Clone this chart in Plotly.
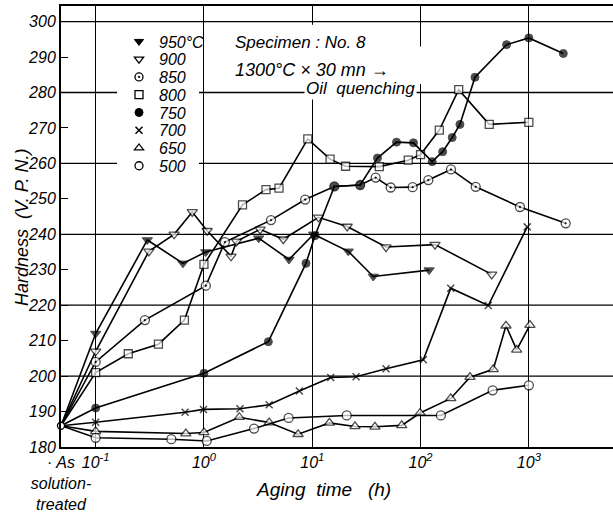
import plotly.graph_objects as go

# ---------------- data ----------------
AS_X = 10 ** -1.32          # position used for the "As solution-treated" state
AS_VALUE = 186

T950_X = [AS_X, 0.1, 0.30, 0.64, 1.04, 3.2, 6.1, 10.3, 21.5, 36.6, 120]
T950_Y = [AS_VALUE, 212, 238.4, 231.8, 235.0, 238.9, 232.9, 240.0, 235.2, 228.1, 229.9]

T900_X = [AS_X, 0.1, 0.31, 0.53, 0.78, 1.07, 1.78, 2.0, 3.3, 5.4, 11.4, 21, 48, 136, 454]
T900_Y = [AS_VALUE, 207, 235.2, 240.0, 246.3, 241.0, 233.8, 238.0, 241.4, 238.6, 244.8, 242.2, 236.4, 237.1, 228.7]

T850_X = [AS_X, 0.1, 0.285, 1.04, 1.56, 4.16, 8.6, 16, 27.7, 38.5, 53, 84.5, 118, 191, 323, 828, 2190]
T850_Y = [AS_VALUE, 204, 215.8, 225.5, 237.8, 244.0, 249.8, 253.5, 253.9, 256.0, 253.2, 253.3, 255.3, 258.3, 253.4, 247.7, 243.1]

T800_X = [AS_X, 0.1, 0.2, 0.38, 0.66, 1.0, 2.27, 3.74, 4.93, 9.1, 14.6, 20.3, 41.6, 77, 100, 149, 225, 431, 1000]
T800_Y = [AS_VALUE, 201, 206.3, 209.0, 215.8, 231.5, 248.3, 252.6, 253.0, 266.9, 261.2, 259.2, 259.1, 260.9, 262.5, 269.4, 280.8, 271.0, 271.6]

T750_X = [AS_X, 0.1, 1.0, 3.93, 8.75, 10.6, 16, 27.7, 40, 60, 86, 128, 160, 196, 231, 318, 623, 1000, 2080]
T750_Y = [AS_VALUE, 191, 200.8, 209.7, 231.8, 239.6, 253.5, 253.9, 261.5, 266.0, 265.8, 260.5, 263.3, 267.3, 271.0, 284.3, 293.5, 295.4, 291.0]

T700_X = [AS_X, 0.1, 0.67, 0.99, 2.15, 4.0, 7.6, 14.8, 25.4, 48, 106, 190, 422, 966]
T700_Y = [AS_VALUE, 187, 189.8, 190.6, 190.8, 191.9, 195.8, 199.6, 199.8, 202.1, 204.6, 224.8, 219.9, 242.1]

T650_X = [AS_X, 0.1, 0.68, 1.0, 2.12, 4.0, 7.4, 14.4, 24.8, 37.9, 67, 99, 190, 286, 469, 615, 772, 1023]
T650_Y = [AS_VALUE, 184.4, 183.8, 184.1, 188.4, 186.9, 183.6, 186.8, 185.8, 185.7, 186.1, 189.6, 193.7, 199.7, 201.9, 214.2, 207.4, 214.4]

T500_X = [AS_X, 0.1, 0.5, 1.06, 2.9, 6.05, 20.8, 154, 463, 1000]
T500_Y = [AS_VALUE, 182.6, 182.2, 181.7, 185.2, 188.2, 188.9, 188.9, 196.0, 197.4]

SERIES_NAMES = ["950°C", "900", "850", "800", "750", "700", "650", "500"]
SERIES_X = [T950_X, T900_X, T850_X, T800_X, T750_X, T700_X, T650_X, T500_X]
SERIES_Y = [T950_Y, T900_Y, T850_Y, T800_Y, T750_Y, T700_Y, T650_Y, T500_Y]

X_TICK_VALS = [AS_X, 0.1, 1, 10, 100, 1000]
X_TICK_TEXT = ["· As<br>solution-<br>treated", "10<sup>-1</sup>", "10<sup>0</sup>",
               "10<sup>1</sup>", "10<sup>2</sup>", "10<sup>3</sup>"]
Y_TICK_VALS = list(range(180, 301, 10))
Y_GRID_VALS = [200, 220, 240, 260, 280, 300]

# ---------------- styling ----------------
SANS = "Liberation Sans, Arial, sans-serif"

MARKERS = {
    "950°C": dict(symbol="triangle-down", color="black", size=9, line=dict(color="black", width=1)),
    "900": dict(symbol="triangle-down", color="white", size=9, line=dict(color="black", width=1.3)),
    "850": dict(symbol="circle-dot", color="white", size=9, line=dict(color="black", width=1.3)),
    "800": dict(symbol="square", color="white", size=8, line=dict(color="black", width=1.3)),
    "750": dict(symbol="circle", color="black", size=8, line=dict(color="black", width=1)),
    "700": dict(symbol="x-thin", color="black", size=7, line=dict(color="black", width=1.5)),
    "650": dict(symbol="triangle-up", color="white", size=9, line=dict(color="black", width=1.3)),
    "500": dict(symbol="circle", color="white", size=9, line=dict(color="black", width=1.3)),
}

L, T, B = 61, 6, 60
W, H = 613, 513
PW, PH = W - L, H - T - B


def px(x):
    return (x - L) / PW


def py(y):
    return (H - B - y) / PH


fig = go.Figure()

for name, xs, ys in zip(SERIES_NAMES, SERIES_X, SERIES_Y):
    m = dict(MARKERS[name])
    m["size"] = [0] + [m["size"]] * (len(xs) - 1)
    fig.add_trace(go.Scatter(
        x=xs, y=ys, mode="lines+markers", showlegend=False,
        line=dict(color="black", width=1.6),
        marker=m, cliponaxis=False, hoverinfo="skip",
    ))

# starting point (as solution-treated)
fig.add_trace(go.Scatter(
    x=[AS_X], y=[AS_VALUE], mode="markers", showlegend=False, cliponaxis=False,
    marker=dict(symbol="circle", color="white", size=7, line=dict(color="black", width=1.3)),
))

# legend: one small legend per entry so the row spacing matches the figure
LEGEND_ROW_Y = [42, 60, 78, 96, 114, 132, 150, 168]
legend_layouts = {}
for i, name in enumerate(SERIES_NAMES):
    key = "legend" if i == 0 else f"legend{i + 1}"
    m = dict(MARKERS[name])
    m["size"] = 8 if name != "700" else 7
    fig.add_trace(go.Scatter(x=[None], y=[None], mode="markers", name=name, marker=m,
                             legend=key, showlegend=True))
    legend_layouts[key] = dict(
        x=px(119), y=py(LEGEND_ROW_Y[i]), xanchor="left", yanchor="middle",
        bgcolor="rgba(0,0,0,0)", borderwidth=0, itemwidth=30,
        font=dict(family=SANS, size=16, style="italic", color="black"),
    )

shapes = []
for gy in Y_GRID_VALS:
    shapes.append(dict(type="line", xref="paper", yref="y", x0=0, x1=1, y0=gy, y1=gy,
                       line=dict(color="black", width=1.3), layer="below"))
# white box behind the legend (interrupts the grid lines like the figure)
shapes.append(dict(type="rect", xref="paper", yref="paper", x0=px(117), x1=px(199),
                   y0=py(180), y1=py(30), fillcolor="white", line=dict(width=0), layer="below"))
# white areas behind the specimen note (interrupt the vertical grid lines)
shapes.append(dict(type="rect", xref="paper", yref="paper", x0=px(228), x1=px(385),
                   y0=py(85), y1=py(25), fillcolor="white", line=dict(width=0), layer="above"))
shapes.append(dict(type="rect", xref="paper", yref="paper", x0=px(385), x1=px(426),
                   y0=py(85), y1=py(47), fillcolor="white", line=dict(width=0), layer="above"))

annotations = [
    dict(text="Hardness  (V. P. N.)", xref="paper", yref="paper", x=px(22), y=py(231),
         xanchor="center", yanchor="middle", textangle=-90, showarrow=False,
         font=dict(family=SANS, size=18, style="italic", color="black")),
    dict(text="Aging  time   (h)", xref="paper", yref="paper", x=px(323), y=py(496),
         xanchor="center", yanchor="middle", showarrow=False,
         font=dict(family=SANS, size=19, style="italic", color="black")),
    dict(text="Specimen : No. 8", xref="paper", yref="paper", x=px(233), y=py(43),
         xanchor="left", yanchor="middle", showarrow=False,
         font=dict(family=SANS, size=17, style="italic", color="black")),
    dict(text="1300°C × 30 mn →", xref="paper", yref="paper", x=px(233), y=py(71),
         xanchor="left", yanchor="middle", showarrow=False,
         font=dict(family=SANS, size=18, style="italic", color="black")),
    dict(text="Oil  quenching", xref="paper", yref="paper", x=px(304), y=py(90),
         xanchor="left", yanchor="middle", showarrow=False, bgcolor="white",
         font=dict(family=SANS, size=17, style="italic", color="black")),
]

layout = dict(
    width=W, height=H,
    margin=dict(l=L, r=0, t=T, b=B, pad=0),
    paper_bgcolor="white", plot_bgcolor="white",
    font=dict(family=SANS, size=16, color="black", style="italic"),
    shapes=shapes, annotations=annotations,
    showlegend=True,
    xaxis=dict(type="log", range=[-1.32, 3.777], tickmode="array",
               tickvals=X_TICK_VALS, ticktext=X_TICK_TEXT, ticks="", tickangle=0,
               showgrid=True, gridcolor="black", gridwidth=1.3,
               showline=True, linecolor="black", linewidth=2, mirror=True,
               zeroline=False, tickfont=dict(family=SANS, size=16, style="italic")),
    yaxis=dict(range=[180, 304.4], tickmode="array", tickvals=Y_TICK_VALS,
               ticks="inside", ticklen=7, tickwidth=1.3, tickcolor="black",
               showgrid=False, showline=True, linecolor="black", linewidth=2,
               zeroline=False, tickfont=dict(family=SANS, size=16, style="italic")),
)
layout.update(legend_layouts)
fig.update_layout(**layout)

fig.write_html("out.html")
